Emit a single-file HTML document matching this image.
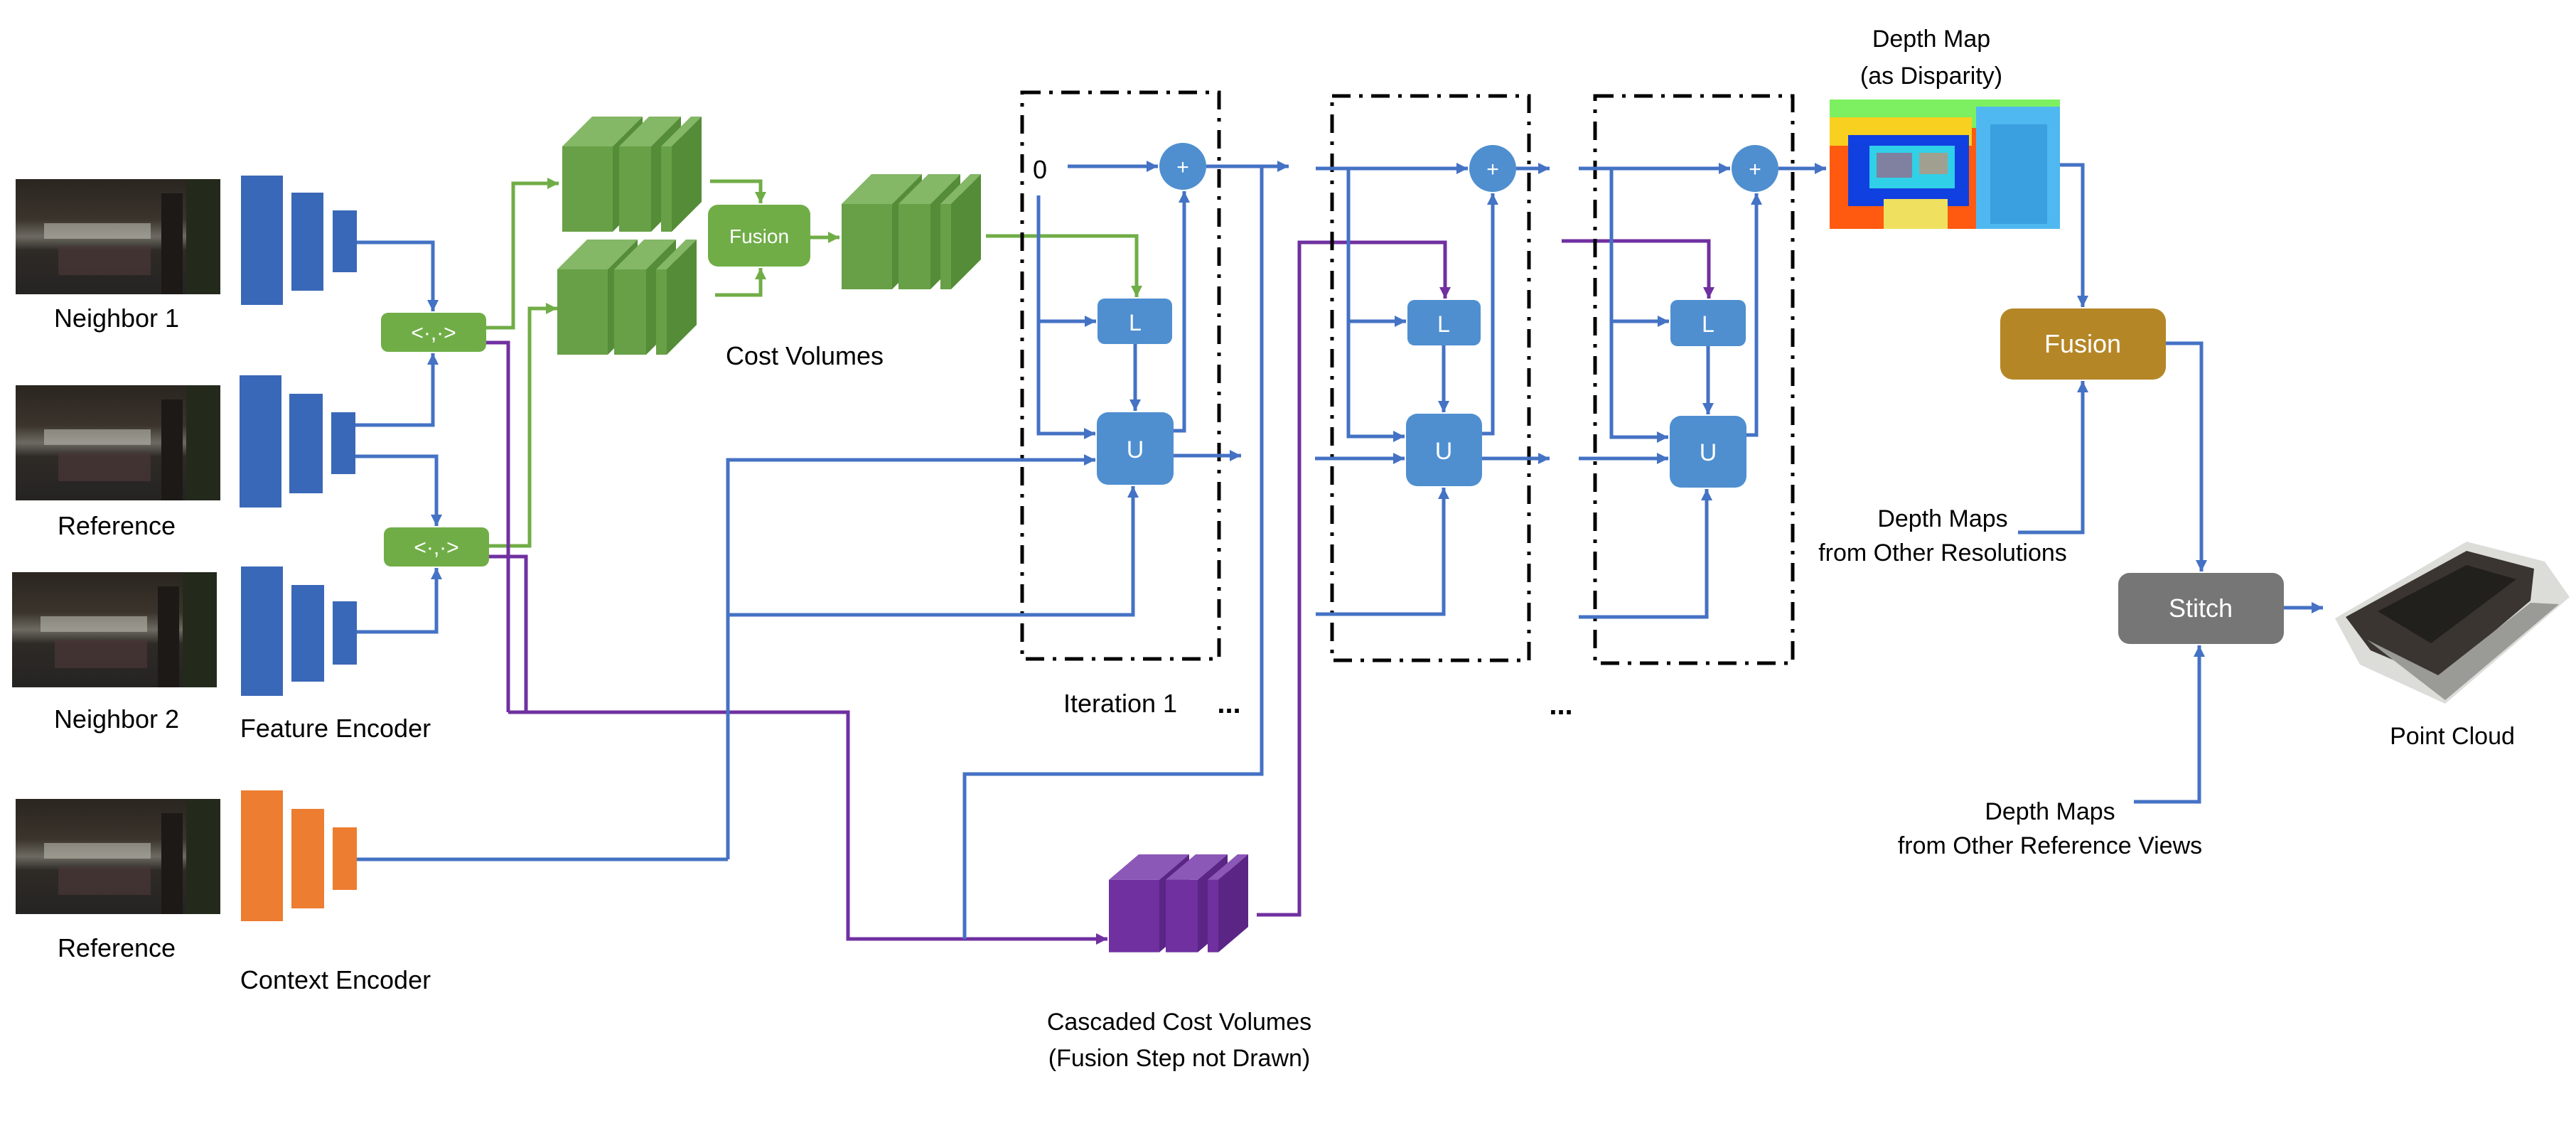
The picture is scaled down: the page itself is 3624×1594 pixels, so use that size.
<!DOCTYPE html>
<html><head><meta charset="utf-8"><style>
html,body{margin:0;padding:0;background:#fff}
svg{display:block}
text{font-family:"Liberation Sans",sans-serif;fill:#000}
</style></head><body>
<svg width="3624" height="1594" viewBox="0 0 3624 1594" xmlns="http://www.w3.org/2000/svg">
<defs>
<marker id="ab" markerUnits="userSpaceOnUse" markerWidth="18" markerHeight="18" refX="16" refY="8" orient="auto"><path d="M0,0 L16,8 L0,16 z" fill="#4472c4"/></marker>
<marker id="ag" markerUnits="userSpaceOnUse" markerWidth="18" markerHeight="18" refX="16" refY="8" orient="auto"><path d="M0,0 L16,8 L0,16 z" fill="#70ad47"/></marker>
<marker id="ap" markerUnits="userSpaceOnUse" markerWidth="18" markerHeight="18" refX="16" refY="8" orient="auto"><path d="M0,0 L16,8 L0,16 z" fill="#7030a0"/></marker>
<linearGradient id="ph" x1="0" y1="0" x2="0" y2="1"><stop offset="0" stop-color="#2b2520"/><stop offset="0.35" stop-color="#3a342c"/><stop offset="0.5" stop-color="#6d6a62"/><stop offset="0.62" stop-color="#2e2a26"/><stop offset="1" stop-color="#252422"/></linearGradient>
<g id="photo">
<rect x="0" y="0" width="288" height="162" fill="url(#ph)"/>
<rect x="40" y="62" width="150" height="22" fill="#b8b8ae" opacity="0.6"/>
<rect x="205" y="20" width="30" height="142" fill="#1c1916"/>
<rect x="240" y="0" width="48" height="162" fill="#232a1c"/>
<rect x="60" y="95" width="130" height="40" fill="#4a3838" opacity="0.7"/>
</g>
<g id="stkG">
<rect x="0" y="42" width="71" height="120" fill="#67a046"/>
<polygon points="0,42 42,0 113,0 71,42" fill="#84b766"/>
<polygon points="71,42 113,0 113,120 71,162" fill="#548c37"/>
<rect x="80" y="42" width="45" height="120" fill="#67a046"/>
<polygon points="80,42 122,0 167,0 125,42" fill="#84b766"/>
<polygon points="125,42 167,0 167,120 125,162" fill="#548c37"/>
<rect x="139" y="42" width="15" height="120" fill="#67a046"/>
<polygon points="139,42 181,0 196,0 154,42" fill="#84b766"/>
<polygon points="154,42 196,0 196,120 154,162" fill="#548c37"/>
</g>
<g id="stkP">
<rect x="0" y="42" width="71" height="120" fill="#7030a0"/>
<polygon points="0,42 42,0 113,0 71,42" fill="#8c58b8"/>
<polygon points="71,42 113,0 113,120 71,162" fill="#5a2585"/>
<rect x="80" y="42" width="45" height="120" fill="#7030a0"/>
<polygon points="80,42 122,0 167,0 125,42" fill="#8c58b8"/>
<polygon points="125,42 167,0 167,120 125,162" fill="#5a2585"/>
<rect x="139" y="42" width="15" height="120" fill="#7030a0"/>
<polygon points="139,42 181,0 196,0 154,42" fill="#8c58b8"/>
<polygon points="154,42 196,0 196,120 154,162" fill="#5a2585"/>
</g>
</defs>
<style>
.lb{fill:none;stroke:#4472c4;stroke-width:5}
.lg{fill:none;stroke:#70ad47;stroke-width:5}
.lp{fill:none;stroke:#7030a0;stroke-width:5}
.dd{fill:none;stroke:#000;stroke-width:5;stroke-dasharray:26 12 5 12}
</style>

<use href="#photo" x="22" y="252"/>
<use href="#photo" x="22" y="542"/>
<use href="#photo" x="17" y="805"/>
<use href="#photo" x="22" y="1124"/>
<text x="164" y="460" font-size="36" text-anchor="middle">Neighbor 1</text>
<text x="164" y="752" font-size="36" text-anchor="middle">Reference</text>
<text x="164" y="1024" font-size="36" text-anchor="middle">Neighbor 2</text>
<text x="164" y="1346" font-size="36" text-anchor="middle">Reference</text>

<g fill="#3a68b8">
<rect x="339" y="247" width="59" height="182"/><rect x="410" y="271" width="45" height="138"/><rect x="468" y="296" width="34" height="87"/>
<rect x="337" y="528" width="59" height="186"/><rect x="407" y="554" width="47" height="140"/><rect x="466" y="580" width="34" height="87"/>
<rect x="339" y="797" width="59" height="182"/><rect x="410" y="823" width="46" height="136"/><rect x="468" y="846" width="34" height="89"/>
</g>
<g fill="#ed7d31">
<rect x="339" y="1112" width="59" height="184"/><rect x="410" y="1138" width="46" height="140"/><rect x="468" y="1164" width="34" height="88"/>
</g>
<text x="472" y="1037" font-size="36" text-anchor="middle">Feature Encoder</text>
<text x="472" y="1391" font-size="36" text-anchor="middle">Context Encoder</text>

<polyline class="lb" points="502,341 609,341 609,438" marker-end="url(#ab)"/>
<polyline class="lb" points="500,598 609,598 609,497" marker-end="url(#ab)"/>
<polyline class="lb" points="500,642 614,642 614,740" marker-end="url(#ab)"/>
<polyline class="lb" points="502,889 614,889 614,799" marker-end="url(#ab)"/>
<polyline class="lg" points="684,461 722,461 722,258 786,258" marker-end="url(#ag)"/>
<polyline class="lg" points="688,768 745,768 745,434 784,434" marker-end="url(#ag)"/>
<polyline class="lp" points="684,482 715,482 715,1002"/>
<polyline class="lp" points="688,783 740,783 740,1002"/>
<polyline class="lp" points="715,1002 1193,1002 1193,1321 1558,1321" marker-end="url(#ap)"/>

<rect x="536" y="440" width="148" height="55" rx="10" fill="#70ad47"/>
<text x="610" y="478" font-size="30" text-anchor="middle" style="fill:#fff">&lt;·,·&gt;</text>
<rect x="540" y="742" width="148" height="55" rx="10" fill="#70ad47"/>
<text x="614" y="780" font-size="30" text-anchor="middle" style="fill:#fff">&lt;·,·&gt;</text>

<use href="#stkG" x="791" y="164"/>
<use href="#stkG" x="784" y="337"/>
<use href="#stkG" x="1184" y="245"/>
<polyline class="lg" points="999,255 1070,255 1070,286" marker-end="url(#ag)"/>
<polyline class="lg" points="1006,415 1070,415 1070,377" marker-end="url(#ag)"/>
<rect x="996" y="288" width="144" height="87" rx="14" fill="#70ad47"/>
<text x="1068" y="342" font-size="28" text-anchor="middle" style="fill:#fff">Fusion</text>
<polyline class="lg" points="1140,334 1181,334" marker-end="url(#ag)"/>
<text x="1132" y="513" font-size="36" text-anchor="middle">Cost Volumes</text>
<polyline class="lg" points="1387,332 1599,332 1599,418" marker-end="url(#ag)"/>

<g transform="translate(1560,1202) scale(1,0.85)"><use href="#stkP"/></g>
<text x="1659" y="1449" font-size="34" text-anchor="middle">Cascaded Cost Volumes</text>
<text x="1659" y="1500" font-size="34" text-anchor="middle">(Fusion Step not Drawn)</text>
<polyline class="lp" points="1768,1287 1828,1287 1828,341 2033,341 2033,420" marker-end="url(#ap)"/>
<polyline class="lp" points="2197,339 2404,339 2404,420" marker-end="url(#ap)"/>

<rect class="dd" x="1438" y="130" width="277" height="797"/>
<text x="1463" y="251" font-size="36" text-anchor="middle">0</text>
<polyline class="lb" points="1024,1209 502,1209"/>
<polyline class="lb" points="1024,1209 1024,647 1541,647" marker-end="url(#ab)"/>
<polyline class="lb" points="1024,865 1594,865 1594,684" marker-end="url(#ab)"/>
<polyline class="lb" points="1502,234 1629,234" marker-end="url(#ab)"/>
<polyline class="lb" points="1461,275 1461,610 1541,610" marker-end="url(#ab)"/>
<polyline class="lb" points="1461,452 1542,452" marker-end="url(#ab)"/>
<polyline class="lb" points="1597,484 1597,578" marker-end="url(#ab)"/>
<polyline class="lb" points="1651,606 1666,606 1666,269" marker-end="url(#ab)"/>
<polyline class="lb" points="1697,234 1813,234" marker-end="url(#ab)"/>
<polyline class="lb" points="1775,234 1775,1089 1357,1089 1357,1321"/>
<polyline class="lb" points="1651,641 1746,641" marker-end="url(#ab)"/>
<rect x="1544" y="420" width="105" height="64" rx="10" fill="#4f8fd0"/>
<text x="1597" y="465" font-size="32" text-anchor="middle" style="fill:#fff">L</text>
<rect x="1543" y="580" width="108" height="102" rx="16" fill="#4f8fd0"/>
<text x="1597" y="644" font-size="34" text-anchor="middle" style="fill:#fff">U</text>
<circle cx="1664" cy="234" r="33" fill="#4f8fd0"/>
<text x="1664" y="245" font-size="30" text-anchor="middle" style="fill:#fff">+</text>
<text x="1576" y="1002" font-size="36" text-anchor="middle">Iteration 1</text>
<text x="1729" y="1003" font-size="40" text-anchor="middle" font-weight="bold">...</text>

<rect class="dd" x="1874" y="135" width="277" height="794"/>
<polyline class="lb" points="1851,237 2065,237" marker-end="url(#ab)"/>
<polyline class="lb" points="1897,237 1897,614 1976,614" marker-end="url(#ab)"/>
<polyline class="lb" points="1897,452 1978,452" marker-end="url(#ab)"/>
<polyline class="lb" points="2031,486 2031,580" marker-end="url(#ab)"/>
<polyline class="lb" points="2085,610 2100,610 2100,272" marker-end="url(#ab)"/>
<polyline class="lb" points="1850,645 1976,645" marker-end="url(#ab)"/>
<polyline class="lb" points="1851,864 2031,864 2031,686" marker-end="url(#ab)"/>
<polyline class="lb" points="2133,237 2180,237" marker-end="url(#ab)"/>
<polyline class="lb" points="2085,645 2180,645" marker-end="url(#ab)"/>
<rect x="1980" y="422" width="103" height="64" rx="10" fill="#4f8fd0"/>
<text x="2031" y="467" font-size="32" text-anchor="middle" style="fill:#fff">L</text>
<rect x="1978" y="582" width="107" height="102" rx="16" fill="#4f8fd0"/>
<text x="2031" y="646" font-size="34" text-anchor="middle" style="fill:#fff">U</text>
<circle cx="2100" cy="237" r="33" fill="#4f8fd0"/>
<text x="2100" y="248" font-size="30" text-anchor="middle" style="fill:#fff">+</text>
<text x="2196" y="1005" font-size="40" text-anchor="middle" font-weight="bold">...</text>

<rect class="dd" x="2244" y="135" width="278" height="798"/>
<polyline class="lb" points="2221,237 2434,237" marker-end="url(#ab)"/>
<polyline class="lb" points="2267,237 2267,615 2347,615" marker-end="url(#ab)"/>
<polyline class="lb" points="2267,452 2348,452" marker-end="url(#ab)"/>
<polyline class="lb" points="2403,487 2403,583" marker-end="url(#ab)"/>
<polyline class="lb" points="2457,612 2471,612 2471,272" marker-end="url(#ab)"/>
<polyline class="lb" points="2221,645 2347,645" marker-end="url(#ab)"/>
<polyline class="lb" points="2221,868 2401,868 2401,688" marker-end="url(#ab)"/>
<polyline class="lb" points="2502,237 2569,237" marker-end="url(#ab)"/>
<rect x="2350" y="422" width="106" height="65" rx="10" fill="#4f8fd0"/>
<text x="2403" y="467" font-size="32" text-anchor="middle" style="fill:#fff">L</text>
<rect x="2349" y="585" width="108" height="101" rx="16" fill="#4f8fd0"/>
<text x="2403" y="648" font-size="34" text-anchor="middle" style="fill:#fff">U</text>
<circle cx="2469" cy="237" r="33" fill="#4f8fd0"/>
<text x="2469" y="248" font-size="30" text-anchor="middle" style="fill:#fff">+</text>

<text x="2717" y="66" font-size="34" text-anchor="middle">Depth Map</text>
<text x="2717" y="118" font-size="34" text-anchor="middle">(as Disparity)</text>
<rect x="2574" y="140" width="324" height="182" fill="#ff5a10"/>
<rect x="2574" y="140" width="324" height="40" fill="#7cf060"/>
<rect x="2574" y="165" width="200" height="40" fill="#f8d020"/>
<rect x="2600" y="190" width="170" height="100" fill="#1040e0"/>
<rect x="2630" y="205" width="120" height="60" fill="#30d0e8"/>
<rect x="2640" y="215" width="50" height="35" fill="#8080a0"/>
<rect x="2700" y="215" width="40" height="30" fill="#a0a090"/>
<rect x="2780" y="150" width="118" height="172" fill="#50b8f0"/>
<rect x="2800" y="175" width="80" height="140" fill="#3aa0e0"/>
<rect x="2650" y="280" width="90" height="42" fill="#f0e060"/>
<polyline class="lb" points="2898,232 2930,232 2930,432" marker-end="url(#ab)"/>

<rect x="2814" y="434" width="233" height="100" rx="18" fill="#b58626"/>
<text x="2930" y="496" font-size="36" text-anchor="middle" style="fill:#fff">Fusion</text>
<polyline class="lb" points="2839,749 2930,749 2930,536" marker-end="url(#ab)"/>
<text x="2733" y="741" font-size="34" text-anchor="middle">Depth Maps</text>
<text x="2733" y="789" font-size="34" text-anchor="middle">from Other Resolutions</text>
<polyline class="lb" points="3047,483 3097,483 3097,804" marker-end="url(#ab)"/>
<rect x="2980" y="806" width="233" height="100" rx="16" fill="#767676"/>
<text x="3096" y="868" font-size="36" text-anchor="middle" style="fill:#fff">Stitch</text>
<polyline class="lb" points="3213,855 3268,855" marker-end="url(#ab)"/>
<polyline class="lb" points="3002,1128 3094,1128 3094,908" marker-end="url(#ab)"/>
<text x="2884" y="1153" font-size="34" text-anchor="middle">Depth Maps</text>
<text x="2884" y="1201" font-size="34" text-anchor="middle">from Other Reference Views</text>

<polygon points="3285,870 3470,762 3580,790 3615,840 3440,990 3320,935" fill="#dcdcd8"/>
<polygon points="3300,868 3470,775 3565,800 3560,845 3430,955 3335,915" fill="#3a3530"/>
<polygon points="3345,860 3470,795 3540,815 3420,905" fill="#22201c"/>
<polygon points="3330,900 3430,950 3560,848 3600,850 3440,985" fill="#9a9a96"/>
<text x="3450" y="1047" font-size="34" text-anchor="middle">Point Cloud</text>
</svg>
</body></html>
